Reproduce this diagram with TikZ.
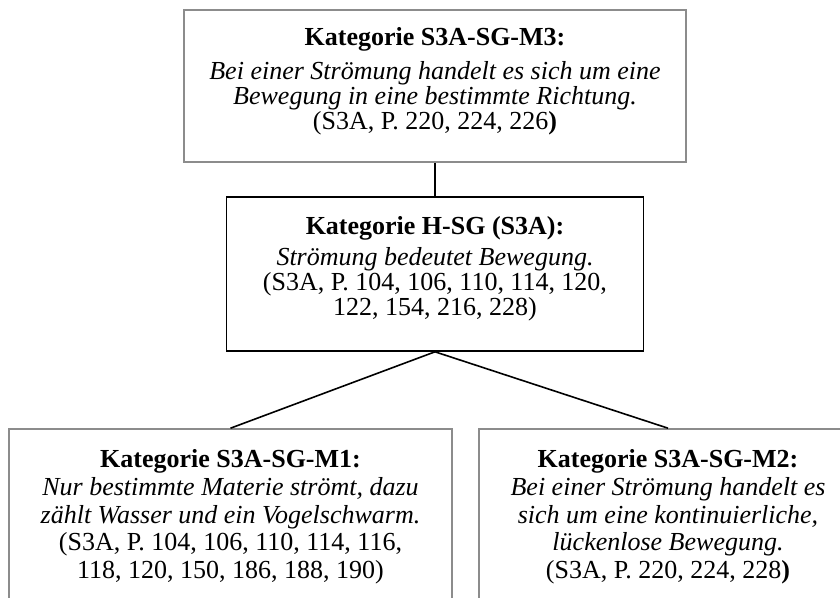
\documentclass[tikz,border=0pt]{standalone}
\usepackage{fontspec}
\setmainfont{Liberation Serif}
\definecolor{boxgray}{gray}{0.55}

\begin{document}
\begin{tikzpicture}[x=1pt, y=-1pt,
		catbox/.style={draw, rectangle, line width=1.6pt, inner sep=0pt},
		cattext/.style={anchor=north, align=center, inner sep=0pt, font=\fontsize{26}{25}\selectfont},
		lowtext/.style={cattext, font=\fontsize{26}{27.8}\selectfont},
		conn/.style={line width=1.6pt}]
			\useasboundingbox (0,0) rectangle (840,597);
			\clip (0,0) rectangle (840,597);
			\node[catbox, draw=boxgray, minimum width=502pt, minimum height=152pt, label={[cattext, yshift=-18pt]north:{\textbf{Kategorie S3A-SG-M3:}\\[9.5pt] \textit{Bei einer Strömung handelt es sich um eine}\\ \textit{Bewegung in eine bestimmte Richtung.}\\ (S3A, P. 220, 224, 226\textbf{)}}}] (M3)at(435, 86) {};
			\node[catbox, minimum width=417pt, minimum height=154pt, label={[cattext, yshift=-20pt]north:{\textbf{Kategorie H-SG (S3A):}\\[6pt] \textit{Strömung bedeutet Bewegung.}\\ (S3A, P. 104, 106, 110, 114, 120,\\ 122, 154, 216, 228)}}] (HSG)at(435, 274) {};
			\node[catbox, draw=boxgray, minimum width=443pt, minimum height=211pt, label={[lowtext, yshift=-21pt]north:{\textbf{Kategorie S3A-SG-M1:}\\ \textit{Nur bestimmte Materie strömt, dazu}\\ \textit{zählt Wasser und ein Vogelschwarm.}\\ (S3A, P. 104, 106, 110, 114, 116,\\ 118, 120, 150, 186, 188, 190)}}] (M1)at(230.5, 534.5) {};
			\node[catbox, draw=boxgray, minimum width=378pt, minimum height=211pt, label={[lowtext, yshift=-21pt]north:{\textbf{Kategorie S3A-SG-M2:}\\ \textit{Bei einer Strömung handelt es}\\ \textit{sich um eine kontinuierliche,}\\ \textit{lückenlose Bewegung.}\\ (S3A, P. 220, 224, 228\textbf{)}}}] (M2)at(668, 534.5) {};
			\draw[conn] (M3) -- (HSG);
			\draw[conn] (HSG.south) -- (M1.north);
			\draw[conn] (HSG.south) -- (M2.north);
		\end{tikzpicture}
\end{document}
